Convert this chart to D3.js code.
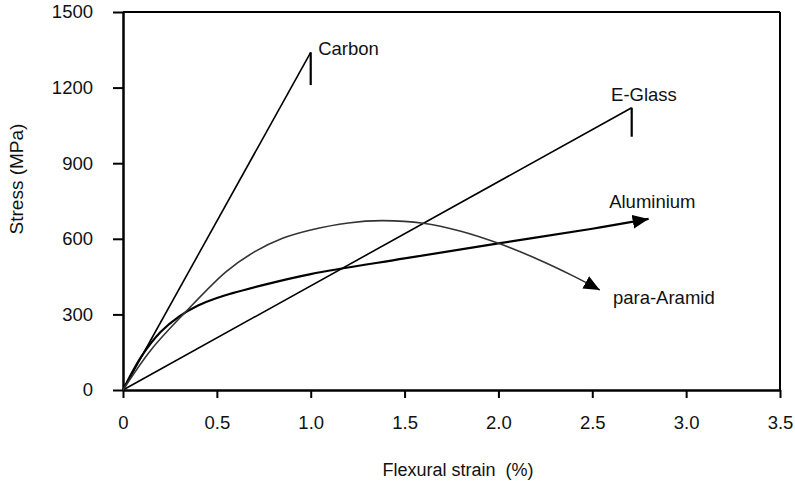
<!DOCTYPE html>
<html>
<head>
<meta charset="utf-8">
<script src="https://cdn.jsdelivr.net/npm/d3@7"></script>
<style>
  body { margin: 0; background: #fff; }
  text { font-family: "Liberation Sans", Arial, sans-serif; fill: #111; }
</style>
</head>
<body>
<div id="chart"></div>
<script>
// data (strain %, stress MPa)
const xTicks = [0, 0.5, 1.0, 1.5, 2.0, 2.5, 3.0, 3.5];
const xTickLabels = ["0", "0.5", "1.0", "1.5", "2.0", "2.5", "3.0", "3.5"];
const yTicks = [0, 300, 600, 900, 1200, 1500];

const carbon = [[0, 0], [1.0, 1340]];
const carbonBreak = [[1.0, 1340], [1.0, 1210]];
const eglass = [[0, 0], [2.71, 1120]];
const eglassBreak = [[2.71, 1120], [2.71, 1005]];
const aluminium = [[0, 0], [0.1, 135], [0.2, 230], [0.3, 292], [0.4, 335], [0.5, 365],
  [0.75, 417], [1.0, 460], [1.5, 522], [2.0, 582], [2.5, 640], [2.8, 679]];
const aramid = [[0, 0], [0.15, 160], [0.33, 307], [0.55, 470], [0.7, 548],
  [0.85, 602], [1.0, 635], [1.2, 663], [1.38, 672], [1.6, 662], [1.8, 630], [2.0, 582],
  [2.2, 522], [2.4, 452], [2.54, 397]];

const labels = [
  { text: "Carbon", x: 1.04, y: 1330 },
  { text: "E-Glass", x: 2.6, y: 1147 },
  { text: "Aluminium", x: 2.59, y: 722 },
  { text: "para-Aramid", x: 2.61, y: 340 }
];

const width = 795, height = 487;
const margin = { left: 123, right: 15, top: 12, bottom: 97 };
const fontSize = 18.5;

const svg = d3.select("#chart").append("svg")
  .attr("width", width)
  .attr("height", height);

const x = d3.scaleLinear().domain([0, 3.5]).range([margin.left, width - margin.right]);
const y = d3.scaleLinear().domain([0, 1500]).range([height - margin.bottom, margin.top]);

// arrow head
svg.append("defs").append("marker")
  .attr("id", "arrow")
  .attr("markerUnits", "userSpaceOnUse")
  .attr("markerWidth", 18).attr("markerHeight", 14)
  .attr("refX", 16).attr("refY", 7)
  .attr("orient", "auto")
  .append("path")
  .attr("d", "M0,0 L16,7 L0,14 Z")
  .attr("fill", "#000");

// box
svg.append("line")
  .attr("x1", x(0)).attr("x2", x(3.5))
  .attr("y1", y(1500)).attr("y2", y(1500))
  .attr("stroke", "#000").attr("stroke-width", 2);
svg.append("line")
  .attr("x1", x(3.5)).attr("x2", x(3.5))
  .attr("y1", y(0)).attr("y2", y(1500))
  .attr("stroke", "#000").attr("stroke-width", 2);

const xAxis = svg.append("g")
  .attr("transform", `translate(0,${y(0)})`)
  .call(d3.axisBottom(x).tickValues(xTicks)
    .tickFormat((d, i) => xTickLabels[i])
    .tickSizeInner(8).tickSizeOuter(0).tickPadding(18));

const yAxis = svg.append("g")
  .attr("transform", `translate(${x(0)},0)`)
  .call(d3.axisLeft(y).tickValues(yTicks).tickFormat(d3.format("d"))
    .tickSizeInner(10).tickSizeOuter(0).tickPadding(20));

[xAxis, yAxis].forEach(g => {
  g.select(".domain").attr("stroke", "#000").attr("stroke-width", 2.5);
  g.selectAll(".tick line").attr("stroke", "#000").attr("stroke-width", 2);
  g.selectAll(".tick text").attr("font-size", fontSize).attr("fill", "#111")
    .attr("font-family", "Liberation Sans, Arial, sans-serif");
});

const straight = d3.line().x(d => x(d[0])).y(d => y(d[1]));
const smooth = d3.line().x(d => x(d[0])).y(d => y(d[1])).curve(d3.curveCatmullRom.alpha(0.5));

svg.append("path").datum(carbon).attr("d", straight)
  .attr("fill", "none").attr("stroke", "#000").attr("stroke-width", 1.6);
svg.append("path").datum(carbonBreak).attr("d", straight)
  .attr("fill", "none").attr("stroke", "#000").attr("stroke-width", 2.2);
svg.append("path").datum(eglass).attr("d", straight)
  .attr("fill", "none").attr("stroke", "#000").attr("stroke-width", 1.6);
svg.append("path").datum(eglassBreak).attr("d", straight)
  .attr("fill", "none").attr("stroke", "#000").attr("stroke-width", 2.2);
svg.append("path").datum(aluminium).attr("d", smooth)
  .attr("fill", "none").attr("stroke", "#000").attr("stroke-width", 2.2)
  .attr("marker-end", "url(#arrow)");
svg.append("path").datum(aramid).attr("d", smooth)
  .attr("fill", "none").attr("stroke", "#333").attr("stroke-width", 1.6)
  .attr("marker-end", "url(#arrow)");

svg.selectAll(".curve-label")
  .data(labels)
  .join("text")
  .attr("class", "curve-label")
  .attr("x", d => x(d.x))
  .attr("y", d => y(d.y))
  .attr("font-size", fontSize)
  .text(d => d.text);

// axis titles
svg.append("text")
  .attr("x", 458).attr("y", 476)
  .attr("text-anchor", "middle")
  .attr("font-size", 18)
  .style("white-space", "pre")
  .text("Flexural strain  (%)");

svg.append("text")
  .attr("transform", "translate(23,179) rotate(-90)")
  .attr("text-anchor", "middle")
  .attr("font-size", 19)
  .text("Stress (MPa)");
</script>
</body>
</html>
